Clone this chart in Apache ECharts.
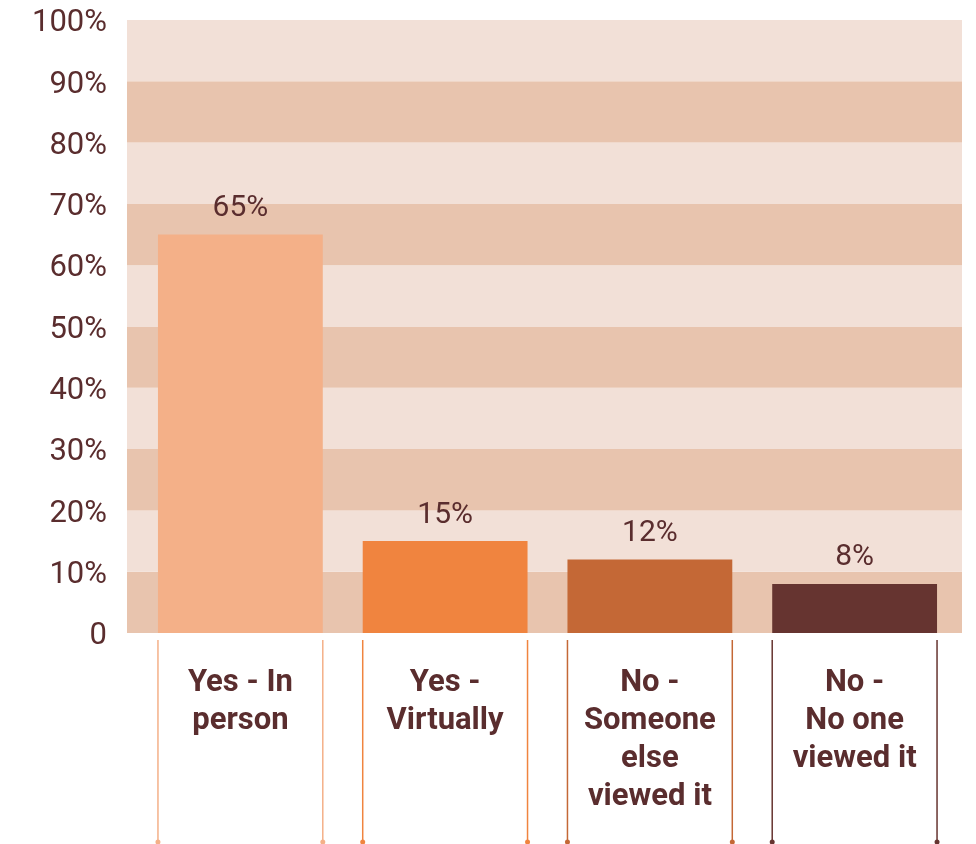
<!DOCTYPE html>
<html>
<head>
<meta charset="utf-8">
<script src="https://cdn.jsdelivr.net/npm/echarts@6/dist/echarts.min.js"></script>
<style>
  html, body { margin: 0; padding: 0; background: #ffffff; }
  #chart { width: 976px; height: 844px; }
</style>
</head>
<body>
<div id="chart"></div>
<script>
// Survey answers and their shares (percent)
const categories = ['Yes - In\nperson', 'Yes -\nVirtually', 'No -\nSomeone\nelse\nviewed it', 'No -\nNo one\nviewed it'];
const shares = [65, 15, 12, 8];
const barColors = ['#f4b088', '#f0843f', '#c46836', '#663430'];
const yTicks = [0, 10, 20, 30, 40, 50, 60, 70, 80, 90, 100];

const textColor = '#5a2d2e';
const BAR_RATIO = 0.805;

const chart = echarts.init(document.getElementById('chart'));

chart.setOption({
  animation: false,
  backgroundColor: '#ffffff',
  textStyle: { fontFamily: 'Roboto' },
  grid: [
    // striped backdrop with the percentage scale
    { left: 127, right: 14, top: 20, bottom: 211 },
    // bars
    { left: 138, right: 19, top: 20, bottom: 211 }
  ],
  xAxis: [
    { gridIndex: 0, type: 'value', min: 0, max: 1, show: false },
    {
      gridIndex: 1,
      type: 'category',
      data: categories,
      axisLine: { show: false },
      axisTick: { show: false },
      axisLabel: {
        interval: 0,
        margin: 31,
        color: textColor,
        fontSize: 31,
        fontWeight: 'bold',
        fontFamily: 'Roboto',
        lineHeight: 38,
        verticalAlign: 'top'
      }
    }
  ],
  yAxis: [
    {
      gridIndex: 0,
      type: 'value',
      min: yTicks[0],
      max: yTicks[yTicks.length - 1],
      interval: 10,
      axisLine: { show: false },
      axisTick: { show: false },
      splitLine: { show: false },
      splitArea: {
        show: true,
        areaStyle: { color: ['#e8c4ae', '#f2e0d7'] }
      },
      axisLabel: {
        margin: 20,
        color: textColor,
        fontSize: 31,
        fontFamily: 'Roboto',
        formatter: v => '{t|' + (v === 0 ? '0' : v + '%') + '}',
        rich: {
          t: {
            color: textColor,
            fontSize: 31,
            fontFamily: 'Roboto',
            padding: [7, 0, 0, 0]
          }
        }
      }
    },
    {
      gridIndex: 1,
      type: 'value',
      min: yTicks[0],
      max: yTicks[yTicks.length - 1],
      show: false
    }
  ],
  series: [
    {
      type: 'bar',
      xAxisIndex: 1,
      yAxisIndex: 1,
      barWidth: (BAR_RATIO * 100) + '%',
      data: shares.map((v, i) => ({ value: v, itemStyle: { color: barColors[i] } })),
      label: {
        show: true,
        position: 'top',
        distance: 11,
        color: textColor,
        fontSize: 30,
        fontFamily: 'Roboto',
        formatter: p => p.value + '%'
      }
    },
    {
      // thin drop lines framing each category label, ending in small dots
      type: 'custom',
      xAxisIndex: 1,
      yAxisIndex: 1,
      clip: false,
      silent: true,
      data: categories.map((c, i) => [i, 0]),
      renderItem: (params, api) => {
        const idx = api.value(0);
        const base = api.coord([idx, 0]);
        const w = api.size([1, 0])[0] * BAR_RATIO;
        const color = barColors[idx];
        const y1 = base[1] + 7;
        const y2 = base[1] + 209;
        const children = [];
        [base[0] - w / 2, base[0] + w / 2].forEach(x => {
          children.push({
            type: 'line',
            shape: { x1: x, y1: y1, x2: x, y2: y2 },
            style: { stroke: color, lineWidth: 1.5 }
          });
          children.push({
            type: 'circle',
            shape: { cx: x, cy: y2, r: 2.5 },
            style: { fill: color }
          });
        });
        return { type: 'group', children: children };
      }
    }
  ]
});
</script>
</body>
</html>
